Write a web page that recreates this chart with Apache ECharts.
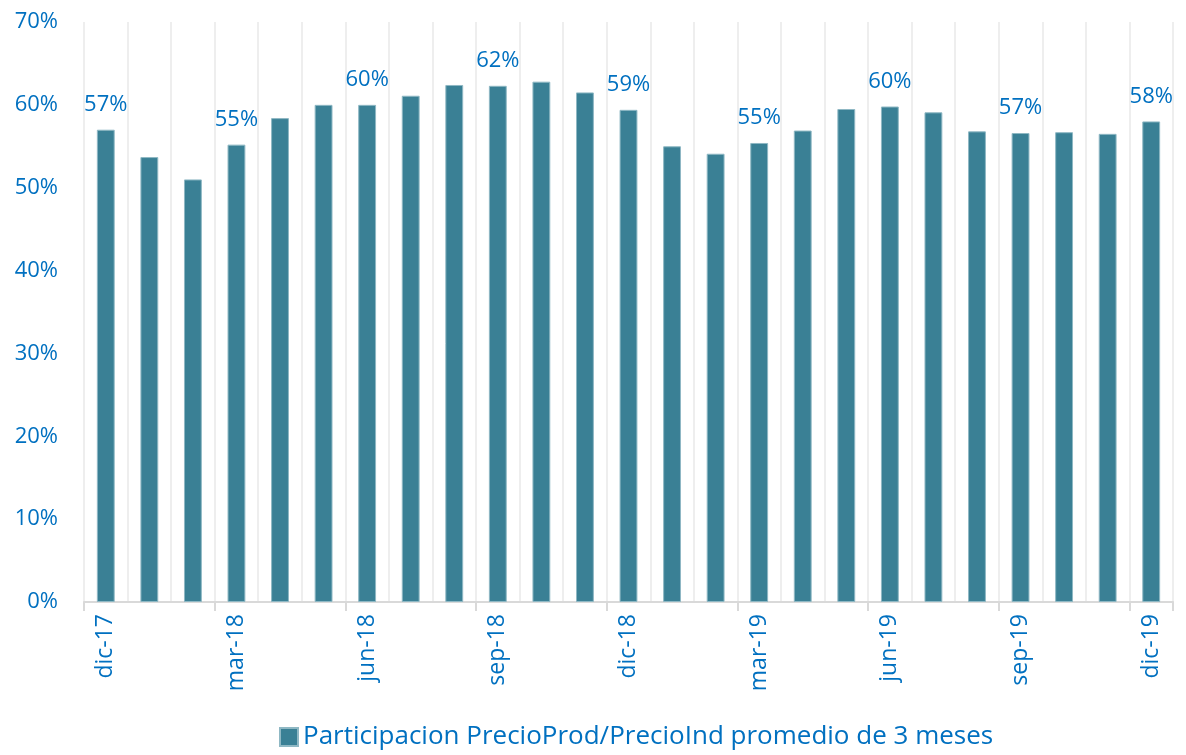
<!DOCTYPE html>
<html>
<head>
<meta charset="utf-8">
<script src="https://cdn.jsdelivr.net/npm/echarts@6/dist/echarts.min.js"></script>
<style>
  html, body { margin: 0; padding: 0; background: #fff; }
  #main { width: 1186px; height: 755px; }
</style>
</head>
<body>
<div id="main"></div>
<script>
// meses (dic-17 .. dic-19)
var categories = [
  "dic-17", "ene-18", "feb-18", "mar-18", "abr-18", "may-18", "jun-18",
  "jul-18", "ago-18", "sep-18", "oct-18", "nov-18", "dic-18", "ene-19",
  "feb-19", "mar-19", "abr-19", "may-19", "jun-19", "jul-19", "ago-19",
  "sep-19", "oct-19", "nov-19", "dic-19"
];
// participacion en %
var participacion = [
  57.0, 53.7, 51.0, 55.2, 58.4, 60.0, 60.0, 61.1, 62.4, 62.3, 62.8, 61.5,
  59.4, 55.0, 54.1, 55.4, 56.9, 59.5, 59.8, 59.1, 56.8, 56.6, 56.7, 56.5, 58.0
];
var seriesName = "Participacion PrecioProd/PrecioInd promedio de 3 meses";

var font = "'Open Sans', 'Noto Sans', sans-serif";
var blue = "#0070C0";

var myChart = echarts.init(document.getElementById("main"));

myChart.setOption({
  animation: false,
  textStyle: { fontFamily: font },
  grid: { left: 84, right: 13, top: 22, bottom: 153 },
  legend: {
    bottom: 0,
    left: 274,
    icon: "rect",
    itemWidth: 18,
    itemHeight: 18,
    itemGap: 8,
    textStyle: { color: blue, fontSize: 26, fontFamily: font },
    data: [seriesName]
  },
  xAxis: {
    type: "category",
    data: categories,
    axisLine: { lineStyle: { color: "#d9d9d9", width: 2 } },
    axisTick: {
      show: true,
      interval: 2,
      length: 9,
      lineStyle: { color: "#d9d9d9", width: 2 }
    },
    axisLabel: {
      interval: 2,
      rotate: 90,
      margin: 12,
      color: blue,
      fontSize: 23,
      fontFamily: font
    },
    splitLine: {
      show: true,
      interval: 0,
      lineStyle: { color: "#eeeeee", width: 2 }
    }
  },
  yAxis: {
    type: "value",
    min: 0,
    max: 70,
    interval: 10,
    axisLine: { show: false },
    axisTick: { show: false },
    splitLine: { show: false },
    axisLabel: {
      formatter: "{value}%",
      color: blue,
      fontSize: 22,
      margin: 26,
      fontFamily: font
    }
  },
  series: [
    {
      name: seriesName,
      type: "bar",
      data: participacion,
      barWidth: "41%",
      itemStyle: {
        color: "#3a8095",
        borderColor: "#8fb8c4",
        borderWidth: 1
      },
      label: {
        show: true,
        position: "top",
        distance: 14,
        color: blue,
        fontSize: 22,
        fontFamily: font,
        formatter: function (p) {
          return p.dataIndex % 3 === 0 ? Math.round(p.value) + "%" : "";
        }
      }
    }
  ]
});
</script>
</body>
</html>
